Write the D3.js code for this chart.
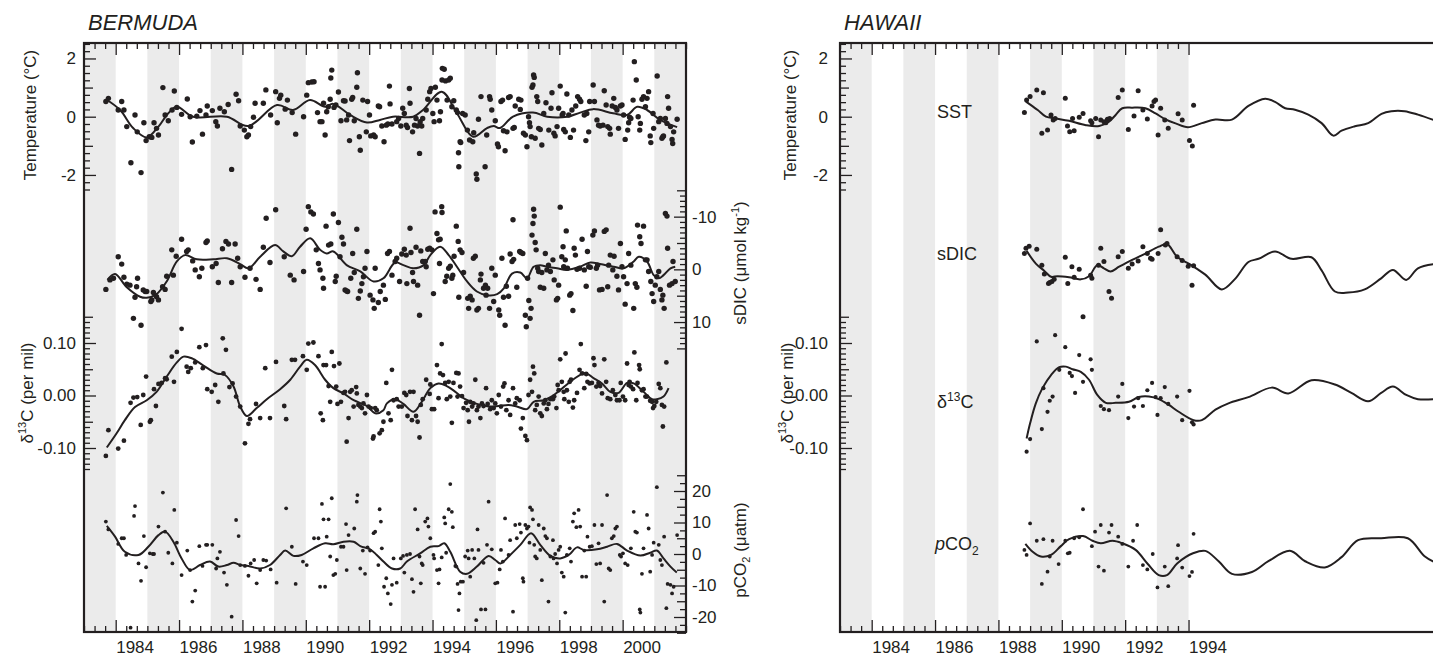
<!DOCTYPE html>
<html>
<head>
<meta charset="utf-8">
<script src="https://cdn.jsdelivr.net/npm/d3@7"></script>
<style>
  body { margin: 0; background: #fff; }
</style>
</head>
<body>
<div id="chart"></div>
<script>
// ---- categories / ticks ----
const bermudaBands = [1983, 1985, 1987, 1989, 1991, 1993, 1995, 1997, 1999, 2001];
const hawaiiBands = [1983, 1985, 1987, 1989, 1991, 1993];
const bermudaYears = [1984, 1986, 1988, 1990, 1992, 1994, 1996, 1998, 2000];
const hawaiiYears = [1984, 1986, 1988, 1990, 1992, 1994];
const tempTicks = [-2, 0, 2];
const d13Ticks = [-0.1, 0, 0.1];
const dicTicks = [-10, 0, 10];
const pco2Ticks = [-20, -10, 0, 10, 20];

// ---- Bermuda: temperature anomaly (degC) ----
const bermudaTempPts = [[1983.69,0.52],[1983.77,0.63],[1984.08,0.23],[1984.19,0.52],[1984.26,0.23],[1984.35,-0.34],[1984.48,-1.58],[1984.61,0.06],[1984.68,-0.52],[1984.80,-1.92],[1984.89,-0.21],[1984.96,-0.82],[1985.06,-0.69],[1985.14,-0.71],[1985.21,-0.21],[1985.29,-0.40],[1985.35,-0.63],[1985.49,1.00],[1985.56,0.06],[1985.66,-0.14],[1985.78,0.23],[1985.85,0.88],[1985.93,0.32],[1986.08,0.08],[1986.26,0.61],[1986.35,0.00],[1986.42,-0.87],[1986.56,0.02],[1986.66,0.21],[1986.74,-0.60],[1986.85,0.06],[1986.89,0.37],[1987.05,0.21],[1987.16,-0.17],[1987.21,-0.32],[1987.29,0.29],[1987.43,0.17],[1987.55,0.42],[1987.66,-1.81],[1987.80,0.77],[1987.88,0.55],[1987.93,-0.32],[1988.06,-0.46],[1988.14,-0.69],[1988.19,-0.63],[1988.26,-0.34],[1988.35,-0.02],[1988.40,0.46],[1988.66,0.46],[1988.74,0.92],[1988.89,0.06],[1989.05,0.86],[1989.10,-0.21],[1989.17,0.63],[1989.21,0.74],[1989.35,0.26],[1989.42,0.57],[1989.57,0.14],[1989.68,-0.60],[1989.93,0.00],[1990.03,0.74],[1990.08,1.17],[1990.19,1.19],[1990.26,1.20],[1990.37,0.14],[1990.45,-0.17],[1990.51,-0.17],[1990.56,0.46],[1990.61,-0.63],[1990.66,0.17],[1990.71,0.34],[1990.77,0.60],[1990.79,1.33],[1990.82,1.60],[1990.89,0.32],[1990.95,0.40],[1991.03,0.85],[1991.11,-0.14],[1991.19,0.55],[1991.24,0.54],[1991.29,-0.11],[1991.35,0.06],[1991.38,-0.82],[1991.45,0.60],[1991.48,0.66],[1991.53,-0.14],[1991.61,1.01],[1991.63,1.51],[1991.69,-0.69],[1991.72,-1.15],[1991.80,0.57],[1991.91,-0.52],[1991.95,0.52],[1992.01,0.06],[1992.05,-0.66],[1992.14,-0.63],[1992.19,-0.69],[1992.29,0.37],[1992.33,0.34],[1992.40,-0.32],[1992.47,-0.86],[1992.54,-0.29],[1992.59,-0.25],[1992.64,1.05],[1992.66,0.44],[1992.72,-0.25],[1992.87,-0.17],[1992.93,-0.06],
  [1993.00,-0.32],[1993.06,0.29],[1993.11,0.11],[1993.17,-0.29],[1993.21,-0.37],[1993.27,0.97],[1993.29,0.46],[1993.37,-0.52],[1993.43,-0.29],[1993.48,-0.06],[1993.53,-0.32],[1993.59,-1.26],[1993.61,-0.17],[1993.66,-0.32],[1993.69,-0.06],[1993.80,0.23],[1993.85,0.60],[1993.91,0.86],[1993.95,0.97],[1994.01,0.11],[1994.05,-0.17],[1994.09,1.01],[1994.14,0.57],[1994.22,-0.14],[1994.25,0.17],[1994.30,1.26],[1994.31,1.66],[1994.37,1.63],[1994.41,1.23],[1994.46,0.57],[1994.51,1.26],[1994.56,1.32],[1994.61,0.34],[1994.67,0.55],[1994.75,0.23],[1994.79,0.14],[1994.82,-1.24],[1994.87,-0.86],[1994.83,-1.72],[1994.89,-0.89],[1994.95,0.11],[1995.03,0.06],[1995.10,-0.46],[1995.17,-0.80],[1995.27,-0.86],[1995.30,-0.55],[1995.38,-1.97],[1995.40,-2.15],[1995.45,-0.09],[1995.53,0.69],[1995.66,-1.72],[1995.71,-0.63],[1995.80,0.69],[1995.82,0.60],[1995.87,0.23],[1995.98,-0.14],[1996.05,-0.94],[1996.08,-1.03],[1996.16,0.52],[1996.21,0.57],[1996.24,-0.48],[1996.29,-1.17],[1996.35,-0.52],[1996.40,0.66],[1996.45,0.69],[1996.54,-0.40],[1996.58,-0.37],[1996.61,0.37],[1996.72,0.60],[1996.77,0.25],[1996.79,0.57],[1996.87,-0.57],[1996.93,-0.63],[1996.98,-1.03],[1997.03,0.00],[1997.06,-0.21],[1997.08,-0.34],[1997.12,-0.69],[1997.14,1.01],[1997.17,1.09],[1997.19,1.43],[1997.21,1.35],[1997.24,-0.74],[1997.29,0.69],[1997.32,0.52],[1997.35,-0.40],[1997.40,-0.44],[1997.45,-0.97],[1997.51,0.11],[1997.58,0.48],[1997.67,-0.46],[1997.74,0.29],[1997.77,0.82],[1997.83,-0.57],[1997.87,-0.66],[1997.93,-0.34],[1997.98,0.29],[1998.03,1.05],[1998.09,0.06],[1998.12,0.11],[1998.14,-0.44],[1998.19,-0.52],[1998.24,0.78],[1998.30,0.06],[1998.35,-0.71],[1998.40,0.23],[1998.45,-0.46],[1998.52,0.37],[1998.58,0.69],[1998.64,0.60],[1998.68,0.52],[1998.79,0.06],[1998.84,-0.82],[1998.87,0.11],[1998.93,-0.52],[1998.96,0.52],[1999.07,1.09],[1999.11,0.52],[1999.19,-0.11],[1999.24,-0.29],[1999.29,-0.32],[1999.38,-0.29],[1999.42,0.89],[1999.48,0.40],[1999.53,-0.34],[1999.59,-0.40],[1999.61,-0.60],[1999.67,0.37],[1999.72,0.63],[1999.77,0.32],[1999.82,0.23],[1999.87,-0.40],[1999.93,0.37],[1999.98,0.40],[2000.03,0.06],[2000.08,-0.78],[2000.16,-0.46],[2000.19,-0.21],[2000.22,-0.02],[2000.26,-0.06],[2000.33,0.57],[2000.37,1.89],[2000.43,1.26],[2000.49,0.00],[2000.54,-0.46],[2000.56,-0.23],[2000.61,0.60],[2000.66,0.69],[2000.72,0.34],[2000.77,0.63],[2000.82,0.86],[2000.87,-0.66],[2000.89,-0.89],[2000.96,0.11],[2000.98,-0.40],[2001.09,1.40],[2001.14,-0.17],[2001.19,-0.06],[2001.24,-0.74],[2001.27,-0.69],[2001.29,-0.66],[2001.35,-0.06],[2001.40,-0.23],[2001.42,0.69],[2001.45,0.29],[2001.51,-0.34],[2001.56,-0.78],[2001.58,-0.92],[2001.61,-0.52],[2001.72,-0.09]];
const bermudaTempFit = [[1983.69,0.60],[1984.14,0.23],[1984.55,-0.39],[1984.98,-0.71],[1985.35,-0.34],[1985.66,0.12],[1985.93,0.34],[1986.44,0.00],[1987.51,0.00],[1988.18,-0.32],[1989.09,0.40],[1989.60,0.23],[1990.13,0.57],[1990.61,0.34],[1990.86,0.44],[1991.40,0.06],[1991.93,-0.20],[1992.34,-0.11],[1992.75,0.00],[1993.39,0.00],[1993.70,0.23],[1994.29,0.86],[1994.77,0.12],[1995.28,-0.69],[1995.72,-0.39],[1995.93,-0.32],[1996.13,-0.39],[1996.54,0.00],[1997.17,0.14],[1997.62,0.00],[1998.25,0.00],[1998.66,0.14],[1999.07,0.26],[1999.70,0.12],[2000.14,0.06],[2000.46,0.34],[2000.77,0.23],[2001.18,-0.11],[2001.72,-0.36]];

// ---- Bermuda: salinity-normalised DIC anomaly (umol/kg, axis inverted) ----
const bermudaDicPts = [[1983.69,3.8],[1983.82,2.0],[1983.93,1.7],[1984.08,-2.4],[1984.19,-1.0],[1984.26,1.5],[1984.35,2.8],[1984.45,3.0],[1984.56,9.3],[1984.61,5.3],[1984.66,3.3],[1984.69,1.7],[1984.80,10.6],[1984.87,3.9],[1984.93,4.2],[1984.98,4.2],[1985.11,6.1],[1985.14,5.8],[1985.19,4.4],[1985.29,5.2],[1985.35,5.8],[1985.48,3.3],[1985.56,3.8],[1985.61,1.3],[1985.77,-3.7],[1985.82,1.1],[1985.91,-2.5],[1986.08,-5.7],[1986.24,-3.4],[1986.29,-3.7],[1986.43,-1.6],[1986.51,0.1],[1986.64,1.4],[1986.72,-0.2],[1986.85,-5.1],[1986.89,-5.4],[1987.05,-0.5],[1987.17,-1.1],[1987.24,2.5],[1987.37,-3.9],[1987.48,-5.3],[1987.56,-4.8],[1987.66,2.5],[1987.77,-4.8],[1987.85,-2.1],[1987.93,-0.5],[1988.08,1.5],[1988.24,-0.2],[1988.43,1.9],[1988.56,3.8],[1988.66,-4.2],[1988.75,-9.7],[1988.87,-1.3],[1989.05,-11.3],[1989.32,-2.4],[1989.51,1.1],[1989.63,2.0],[1989.93,0.4],[1990.01,-7.6],[1990.08,-11.9],[1990.16,-10.9],[1990.24,-10.5],[1990.33,-3.7],[1990.40,-1.1],[1990.45,0.1],[1990.54,1.7],[1990.56,3.6],[1990.64,-8.2],[1990.72,-4.6],[1990.79,-4.8],[1990.87,-10.5],[1990.93,2.3],[1990.96,1.3],[1991.03,-8.9],[1991.08,-2.4],[1991.14,-6.1],[1991.19,-4.8],[1991.24,3.9],[1991.29,4.1],[1991.32,4.2],[1991.42,1.7],[1991.48,-3.0],[1991.53,0.6],[1991.61,-7.6],[1991.66,5.5],[1991.72,4.1],[1991.77,2.7],[1991.82,1.4],[1991.87,-0.2],[1991.93,-3.4],[1992.03,4.9],[1992.12,5.8],[1992.16,7.4],[1992.19,-0.2],[1992.29,6.3],[1992.35,4.2],[1992.45,3.0],
  [1992.51,5.7],[1992.58,-3.0],[1992.64,-3.4],[1992.72,1.1],[1992.82,-1.5],[1992.87,-2.1],[1992.96,2.3],[1993.03,-2.9],[1993.11,-3.8],[1993.17,-2.7],[1993.19,2.7],[1993.29,-7.8],[1993.32,-3.2],[1993.37,0.6],[1993.40,2.3],[1993.48,-4.2],[1993.53,3.0],[1993.59,8.7],[1993.63,-3.5],[1993.69,-1.5],[1993.77,-1.5],[1993.80,-0.5],[1993.85,-3.8],[1993.91,-4.0],[1993.98,-3.7],[1994.03,4.6],[1994.08,-10.9],[1994.14,-6.8],[1994.19,-5.6],[1994.22,-1.1],[1994.24,-5.7],[1994.29,-11.9],[1994.30,-10.8],[1994.40,2.3],[1994.45,1.3],[1994.51,-0.2],[1994.56,-0.6],[1994.61,1.7],[1994.64,1.1],[1994.68,-2.5],[1994.75,-8.2],[1994.81,-5.3],[1994.83,5.3],[1994.87,-3.7],[1994.93,-3.2],[1994.98,0.6],[1995.11,5.5],[1995.14,7.4],[1995.19,5.1],[1995.25,5.8],[1995.29,-2.1],[1995.35,-2.5],[1995.40,7.7],[1995.45,7.4],[1995.51,2.0],[1995.53,0.9],[1995.61,3.6],[1995.67,3.0],[1995.69,4.9],[1995.74,3.6],[1995.80,7.4],[1995.87,-0.2],[1995.93,6.1],[1995.98,1.1],[1996.09,7.7],[1996.12,8.7],[1996.19,-2.1],[1996.24,5.3],[1996.29,10.6],[1996.33,3.2],[1996.40,5.1],[1996.45,-2.9],[1996.51,-1.5],[1996.54,-9.4],[1996.56,-1.9],[1996.66,3.4],[1996.75,-3.4],[1996.79,-3.2],[1996.85,-3.0],[1996.93,8.7],[1996.96,10.9],[1997.00,1.7],[1997.04,5.9],[1997.08,9.3],[1997.11,7.4],[1997.14,-6.5],[1997.17,-8.7],[1997.19,-11.4],[1997.21,-10.1],[1997.24,-5.1],[1997.27,-3.7],[1997.32,-0.2],[1997.35,0.4],[1997.40,3.4],[1997.45,0.6],[1997.51,3.6],[1997.56,-3.0],[1997.61,0.1],[1997.66,-0.8],[1997.72,0.4],[1997.80,-1.8],[1997.84,2.0],[1997.91,5.8],[1997.95,5.5],[1997.98,3.0],[1998.03,-11.8],[1998.08,-2.4],[1998.12,-4.3],[1998.14,-0.5],[1998.19,-1.8],[1998.22,-7.3],[1998.26,-0.2],[1998.33,4.9],[1998.37,4.6],[1998.43,7.8],[1998.47,-4.0],[1998.51,-2.7],[1998.56,0.0],[1998.64,-0.2],[1998.72,-5.7],[1998.79,0.1],[1998.85,3.2],[1998.89,-3.4],[1998.93,-0.5],[1998.98,-0.4],[1999.06,-6.5],[1999.11,-7.3],[1999.17,-0.2],[1999.21,-0.8],[1999.27,3.9],[1999.35,3.8],[1999.42,-7.2],[1999.48,-7.5],[1999.53,3.3],[1999.56,-0.8],[1999.61,-2.7],[1999.69,0.1],[1999.73,-2.5],[1999.82,1.3],[1999.87,3.9],[1999.93,-4.9],[1999.98,-0.5],[2000.03,1.4],[2000.08,6.6],[2000.14,2.7],[2000.19,-3.0],[2000.26,-0.8],[2000.35,7.4],[2000.40,2.7],[2000.45,3.4],[2000.47,-8.4],[2000.54,-6.2],[2000.58,-4.9],[2000.66,-8.2],[2000.72,-1.8],[2000.77,-1.8],[2000.82,0.4],[2000.89,2.3],[2000.93,4.6],[2000.98,6.1],[2001.03,3.0],[2001.08,1.4],[2001.14,0.4],[2001.19,3.8],[2001.24,5.8],[2001.27,4.9],[2001.31,7.4],[2001.35,-10.6],[2001.40,-10.1],[2001.42,-4.0],[2001.48,3.0],[2001.56,2.7],[2001.59,-1.5],[2001.66,2.3]];
const bermudaDicFit = [[1983.74,2.0],[1983.98,0.9],[1984.35,3.4],[1984.77,5.2],[1984.98,5.4],[1985.29,4.7],[1985.61,2.3],[1985.93,-1.5],[1986.19,-2.7],[1986.56,-1.9],[1987.08,-1.9],[1987.51,-2.1],[1987.93,-1.0],[1988.19,-0.2],[1988.56,-2.4],[1989.03,-4.6],[1989.29,-3.4],[1989.56,-2.5],[1989.82,-4.3],[1990.14,-5.9],[1990.45,-3.7],[1990.66,-3.0],[1990.87,-3.4],[1991.29,-0.8],[1991.72,0.4],[1992.14,2.3],[1992.45,1.7],[1992.82,-1.3],[1993.08,-0.8],[1993.40,-0.2],[1993.72,-0.8],[1993.93,-2.7],[1994.24,-4.3],[1994.51,-2.7],[1994.77,-0.5],[1995.09,2.3],[1995.40,4.2],[1995.72,4.9],[1996.04,4.7],[1996.25,3.6],[1996.51,0.8],[1996.77,0.6],[1996.98,1.7],[1997.19,-0.5],[1997.40,-0.8],[1997.61,-0.5],[1997.93,-0.2],[1998.24,0.1],[1998.66,-0.5],[1998.98,-1.3],[1999.29,-1.0],[1999.72,-0.5],[2000.03,-0.2],[2000.35,-1.5],[2000.51,-2.4],[2000.77,-1.5],[2000.98,1.1],[2001.14,1.7],[2001.29,1.1],[2001.51,-0.2],[2001.66,-0.5]];

// ---- Bermuda: delta13C anomaly (per mil) ----
const bermudaD13Pts = [[1983.69,-0.115],[1983.77,-0.066],[1984.08,-0.101],[1984.26,-0.086],[1984.47,-0.014],[1984.56,-0.004],[1984.68,-0.003],[1984.79,-0.056],[1984.87,0.001],[1984.96,0.036],[1985.08,-0.050],[1985.11,-0.047],[1985.21,0.012],[1985.27,-0.020],[1985.35,0.022],[1985.45,0.024],[1985.56,0.033],[1985.61,0.031],[1985.77,0.074],[1985.84,0.026],[1985.93,0.083],[1986.08,0.127],[1986.24,0.055],[1986.29,0.045],[1986.37,0.052],[1986.51,0.063],[1986.64,0.092],[1986.75,0.052],[1986.85,0.096],[1986.89,0.012],[1987.03,0.007],[1987.14,0.020],[1987.24,-0.012],[1987.38,0.109],[1987.40,0.042],[1987.48,0.087],[1987.59,0.016],[1987.69,0.023],[1987.80,-0.002],[1987.93,-0.021],[1988.08,-0.091],[1988.19,-0.054],[1988.24,-0.045],[1988.43,-0.016],[1988.56,-0.043],[1988.72,0.052],[1988.87,-0.043],[1989.06,0.064],[1989.32,-0.020],[1989.38,-0.045],[1989.56,0.068],[1989.66,0.068],[1989.91,0.075],[1990.03,0.049],[1990.08,0.099],[1990.24,0.101],[1990.40,0.075],[1990.47,-0.034],[1990.54,-0.047],[1990.56,0.058],[1990.64,0.058],[1990.72,0.018],[1990.77,-0.012],[1990.82,0.083],[1990.89,0.056],[1990.96,0.017],[1991.00,-0.016],[1991.06,0.061],[1991.11,-0.012],[1991.19,0.005],[1991.24,0.007],[1991.29,-0.088],[1991.35,-0.043],[1991.40,0.007],[1991.45,0.010],[1991.51,-0.021],[1991.59,0.016],[1991.61,0.004],[1991.66,-0.018],[1991.72,-0.021],[1991.77,-0.024],[1991.82,-0.015],[1991.87,-0.034],[1991.93,0.001],[1991.98,-0.021],[1992.05,-0.024],[1992.12,-0.082],[1992.14,-0.078],[1992.19,-0.024],[1992.24,-0.028],[1992.33,-0.072],[1992.40,-0.066],[1992.45,-0.050],[1992.54,0.024],[1992.61,-0.034],[1992.68,-0.047],[1992.72,0.049],[1992.77,-0.009],[1992.87,-0.007],[1992.93,-0.021],
  [1993.03,-0.021],[1993.11,0.005],[1993.17,0.001],[1993.21,-0.039],[1993.29,0.007],[1993.35,-0.047],[1993.40,0.007],[1993.48,-0.039],[1993.53,-0.050],[1993.59,-0.080],[1993.63,-0.018],[1993.69,-0.007],[1993.80,0.030],[1993.91,0.003],[1993.93,0.021],[1993.98,-0.026],[1994.05,-0.026],[1994.14,0.058],[1994.19,-0.005],[1994.24,0.042],[1994.29,0.098],[1994.33,0.039],[1994.40,0.024],[1994.45,-0.007],[1994.51,0.026],[1994.56,-0.002],[1994.61,-0.052],[1994.66,0.024],[1994.75,0.043],[1994.79,-0.002],[1994.82,0.042],[1994.87,0.017],[1994.93,-0.001],[1994.98,-0.024],[1995.06,-0.014],[1995.11,-0.028],[1995.15,-0.050],[1995.19,-0.012],[1995.25,-0.021],[1995.29,-0.015],[1995.35,0.030],[1995.40,-0.028],[1995.45,-0.021],[1995.51,-0.043],[1995.56,-0.015],[1995.61,-0.020],[1995.69,0.014],[1995.74,-0.016],[1995.82,-0.026],[1995.87,-0.009],[1995.93,-0.024],[1995.98,-0.015],[1996.03,-0.034],[1996.09,0.001],[1996.16,-0.021],[1996.23,0.017],[1996.27,0.023],[1996.33,-0.028],[1996.40,-0.009],[1996.45,-0.037],[1996.54,0.014],[1996.61,-0.015],[1996.66,-0.005],[1996.75,-0.009],[1996.79,-0.063],[1996.85,-0.043],[1996.93,-0.077],[1996.98,-0.085],[1997.03,0.001],[1997.08,0.030],[1997.14,0.007],[1997.17,0.055],[1997.21,0.042],[1997.24,-0.028],[1997.29,-0.018],[1997.35,-0.002],[1997.40,-0.034],[1997.45,-0.039],[1997.51,-0.015],[1997.56,-0.009],[1997.61,-0.026],[1997.66,-0.016],[1997.72,-0.007],[1997.80,-0.007],[1997.84,-0.002],[1997.91,-0.024],[1997.95,0.020],[1997.98,0.010],[1998.03,0.069],[1998.08,0.026],[1998.14,0.007],[1998.16,-0.007],[1998.20,0.080],[1998.24,0.010],[1998.30,-0.012],[1998.33,0.026],[1998.37,0.030],[1998.43,-0.023],[1998.47,-0.009],[1998.56,0.005],[1998.64,0.049],[1998.68,0.098],[1998.72,0.042],[1998.79,0.014],[1998.85,0.041],[1998.89,0.026],[1998.96,0.023],[1999.03,0.024],[1999.08,0.071],[1999.11,0.058],[1999.17,0.017],[1999.24,0.024],[1999.29,0.018],[1999.35,0.004],[1999.42,0.069],[1999.48,0.026],[1999.53,-0.005],[1999.61,-0.007],[1999.69,0.010],[1999.77,0.001],[1999.82,-0.009],[1999.90,-0.009],[1999.94,0.024],[2000.01,-0.002],[2000.08,-0.009],[2000.14,0.061],[2000.19,0.020],[2000.22,0.026],[2000.26,0.017],[2000.33,0.012],[2000.37,0.082],[2000.43,-0.009],[2000.47,0.024],[2000.52,0.058],[2000.54,0.050],[2000.61,0.010],[2000.66,0.012],[2000.72,-0.002],[2000.77,-0.002],[2000.87,-0.010],[2000.93,-0.012],[2000.96,-0.024],[2001.00,-0.020],[2001.06,-0.012],[2001.14,0.022],[2001.19,0.014],[2001.24,-0.018],[2001.27,-0.059],[2001.31,-0.021],[2001.38,0.063]];
const bermudaD13Fit = [[1983.72,-0.099],[1984.03,-0.072],[1984.29,-0.047],[1984.61,-0.022],[1984.98,-0.009],[1985.29,0.007],[1985.61,0.036],[1985.93,0.063],[1986.14,0.074],[1986.40,0.071],[1986.77,0.057],[1987.19,0.042],[1987.45,0.039],[1987.72,0.017],[1987.93,-0.021],[1988.14,-0.039],[1988.45,-0.024],[1988.77,-0.007],[1989.19,0.012],[1989.51,0.030],[1989.82,0.055],[1990.03,0.068],[1990.29,0.058],[1990.61,0.030],[1990.87,0.014],[1991.19,0.004],[1991.51,-0.009],[1991.93,-0.020],[1992.19,-0.034],[1992.45,-0.028],[1992.56,-0.015],[1992.82,-0.007],[1993.08,-0.016],[1993.40,-0.031],[1993.66,-0.012],[1993.93,0.014],[1994.19,0.023],[1994.45,0.018],[1994.72,0.007],[1995.03,-0.007],[1995.40,-0.016],[1995.77,-0.021],[1996.09,-0.020],[1996.40,-0.018],[1996.66,-0.021],[1996.98,-0.026],[1997.19,-0.012],[1997.51,-0.009],[1997.83,0.001],[1998.14,0.016],[1998.45,0.031],[1998.82,0.043],[1999.08,0.033],[1999.35,0.023],[1999.61,0.007],[1999.87,0.005],[2000.14,0.024],[2000.35,0.023],[2000.66,0.007],[2000.93,-0.007],[2001.08,-0.007],[2001.29,-0.002],[2001.45,0.014]];

// ---- Bermuda: pCO2 anomaly (uatm) ----
const bermudaPco2Pts = [[1983.69,10.3],[1983.77,7.8],[1984.08,3.2],[1984.19,5.0],[1984.26,5.0],[1984.33,-0.3],[1984.47,-23.4],[1984.58,12.1],[1984.61,15.2],[1984.72,-3.0],[1984.80,-8.5],[1984.89,5.7],[1984.96,-4.2],[1985.08,0.2],[1985.17,0.0],[1985.21,0.0],[1985.35,8.7],[1985.49,19.5],[1985.56,7.1],[1985.66,0.4],[1985.79,-3.0],[1985.85,14.0],[1985.93,3.6],[1986.08,-6.7],[1986.26,1.1],[1986.35,-5.1],[1986.42,-15.1],[1986.51,-11.6],[1986.64,2.5],[1986.74,-3.8],[1986.85,2.9],[1986.89,2.9],[1987.05,2.9],[1987.17,-4.6],[1987.21,-1.4],[1987.29,0.7],[1987.42,-5.9],[1987.51,-9.8],[1987.66,-19.9],[1987.80,10.8],[1987.88,5.7],[1987.93,-3.5],[1988.08,-3.8],[1988.19,-6.9],[1988.26,-3.0],[1988.37,-1.9],[1988.45,-9.3],[1988.56,-5.1],[1988.66,-1.9],[1988.75,-2.1],[1988.89,-4.9],[1989.08,-9.1],[1989.38,14.5],[1989.56,2.3],[1989.68,-9.5],[1989.91,-2.4],[1990.03,-3.5],[1990.26,5.0],[1990.40,5.0],[1990.45,-10.4],[1990.51,15.9],[1990.56,11.0],[1990.61,-10.4],[1990.66,5.5],[1990.72,11.0],[1990.77,-0.8],[1990.82,17.7],[1990.87,-6.7],[1990.93,-6.3],[1990.98,-1.9],[1991.11,2.3],[1991.19,2.3],[1991.27,9.5],[1991.29,-5.1],[1991.35,6.0],[1991.53,8.1],[1991.61,16.6],[1991.63,18.7],[1991.72,-4.6],[1991.80,1.1],[1991.87,-6.3],[1991.95,2.1],[1992.03,1.1],[1992.14,6.6],[1992.19,7.1],[1992.29,-3.5],[1992.33,14.2],[1992.37,10.3],[1992.40,1.8],[1992.47,-10.4],[1992.54,-7.7],[1992.59,-12.5],[1992.68,-15.9],[1992.72,-9.8],[1992.77,-1.4],[1992.87,-9.1],
  [1993.00,-1.4],[1993.07,-0.6],[1993.11,-5.9],[1993.19,-0.3],[1993.29,0.0],[1993.35,-8.0],[1993.40,-12.0],[1993.45,14.2],[1993.53,7.8],[1993.59,-0.8],[1993.63,-9.3],[1993.66,-3.0],[1993.69,-3.5],[1993.77,10.3],[1993.84,11.3],[1993.87,8.7],[1993.93,5.0],[1994.03,-0.3],[1994.05,-1.4],[1994.14,-5.1],[1994.19,-9.3],[1994.22,-4.9],[1994.29,-1.1],[1994.37,11.6],[1994.40,9.7],[1994.43,0.4],[1994.51,14.2],[1994.56,22.2],[1994.61,13.4],[1994.64,8.5],[1994.72,-3.8],[1994.75,-4.0],[1994.79,-9.5],[1994.82,-17.8],[1994.85,-12.5],[1994.89,-8.8],[1994.96,-8.8],[1995.03,-0.8],[1995.11,1.1],[1995.14,-1.4],[1995.19,-7.2],[1995.25,1.3],[1995.32,-1.4],[1995.38,-21.0],[1995.42,7.8],[1995.45,1.3],[1995.53,-17.6],[1995.61,-2.8],[1995.67,-17.6],[1995.72,2.9],[1995.77,16.6],[1995.87,1.5],[1995.98,-9.3],[1996.05,-9.1],[1996.12,-4.9],[1996.16,1.3],[1996.22,-2.4],[1996.29,11.3],[1996.40,-0.3],[1996.45,4.4],[1996.54,-18.3],[1996.61,9.2],[1996.66,5.0],[1996.75,9.5],[1996.79,6.8],[1996.85,-7.7],[1996.87,-8.8],[1996.93,9.2],[1996.98,8.1],[1997.03,8.7],[1997.06,3.6],[1997.08,14.8],[1997.14,14.0],[1997.17,11.0],[1997.21,2.9],[1997.24,-0.8],[1997.29,-1.4],[1997.35,9.2],[1997.40,1.3],[1997.45,-8.3],[1997.51,8.1],[1997.56,5.7],[1997.61,5.0],[1997.66,-15.1],[1997.72,-0.8],[1997.80,4.4],[1997.82,-1.4],[1997.87,0.0],[1997.93,-3.0],[1997.98,1.3],[1998.03,2.3],[1998.08,-5.9],[1998.14,-7.2],[1998.19,-18.6],[1998.24,-0.3],[1998.33,1.8],[1998.37,-2.4],[1998.43,10.3],[1998.47,12.9],[1998.54,8.5],[1998.61,14.0],[1998.66,8.7],[1998.72,-7.2],[1998.79,1.1],[1998.85,-7.2],[1998.89,5.5],[1998.96,2.3],[1999.03,2.5],[1999.11,9.2],[1999.17,-3.2],[1999.24,3.4],[1999.29,-3.0],[1999.35,9.2],[1999.42,-15.1],[1999.51,18.7],[1999.56,-4.6],[1999.61,-5.1],[1999.66,5.0],[1999.72,5.7],[1999.77,8.1],[1999.82,8.7],[1999.91,-0.3],[1999.95,-0.8],[2000.01,0.2],[2000.08,-3.0],[2000.16,-3.5],[2000.26,1.8],[2000.35,13.4],[2000.40,7.1],[2000.45,6.8],[2000.54,-17.6],[2000.56,-18.6],[2000.61,-6.3],[2000.66,1.8],[2000.77,12.4],[2000.82,8.1],[2000.87,-5.6],[2000.93,-0.3],[2000.98,3.6],[2001.08,21.2],[2001.14,2.9],[2001.19,-1.9],[2001.24,-3.5],[2001.31,5.5],[2001.38,-17.2],[2001.42,-9.5],[2001.51,-9.8],[2001.56,-12.5],[2001.61,-10.4],[2001.72,6.0]];
const bermudaPco2Fit = [[1983.72,8.9],[1983.98,5.5],[1984.29,0.7],[1984.72,-0.3],[1985.03,2.3],[1985.35,6.0],[1985.56,7.1],[1985.82,3.9],[1986.08,-1.4],[1986.35,-5.1],[1986.66,-3.5],[1986.98,-2.4],[1987.24,-4.0],[1987.51,-3.5],[1987.72,-2.8],[1987.93,-3.5],[1988.19,-3.8],[1988.56,-4.6],[1988.87,-3.5],[1989.19,-0.3],[1989.35,1.1],[1989.61,-0.6],[1989.87,-0.3],[1990.24,1.8],[1990.61,3.4],[1990.87,3.1],[1991.19,3.9],[1991.51,3.9],[1991.72,2.5],[1992.03,1.5],[1992.24,-0.3],[1992.45,-2.4],[1992.72,-4.6],[1992.98,-4.6],[1993.19,-2.4],[1993.61,0.2],[1993.93,2.3],[1994.19,2.5],[1994.37,3.4],[1994.56,0.7],[1994.87,-5.6],[1995.09,-6.3],[1995.40,-4.0],[1995.77,-0.6],[1995.98,-1.9],[1996.14,-3.0],[1996.45,-0.3],[1996.77,2.9],[1997.11,6.6],[1997.40,2.9],[1997.72,-0.6],[1998.03,-1.4],[1998.30,-0.3],[1998.56,2.1],[1998.77,1.3],[1999.19,1.5],[1999.51,2.3],[1999.82,3.2],[2000.14,1.1],[2000.56,-0.5],[2000.87,0.4],[2001.08,1.1],[2001.29,-1.4],[2001.51,-4.0],[2001.71,-5.9]];

// ---- Hawaii ----
const hawaiiSstPts = [[1988.82,0.14],[1988.89,0.57],[1989.00,0.69],[1989.21,0.92],[1989.37,-0.57],[1989.42,0.82],[1989.55,-0.46],[1989.66,0.06],[1989.73,-0.11],[1989.79,-0.06],[1990.11,0.63],[1990.18,-0.32],[1990.25,-0.52],[1990.34,-0.06],[1990.39,-0.48],[1990.55,-0.02],[1990.67,0.11],[1990.91,-0.14],[1990.95,-0.21],[1991.07,-0.06],[1991.16,-0.69],[1991.23,-0.11],[1991.33,-0.17],[1991.39,-0.21],[1991.44,-0.09],[1991.51,-0.06],[1991.78,0.66],[1991.91,0.92],[1992.10,-0.44],[1992.28,0.02],[1992.41,0.89],[1992.56,0.23],[1992.70,-0.08],[1992.85,0.37],[1992.91,0.52],[1992.96,0.57],[1993.04,-0.63],[1993.12,0.29],[1993.25,-0.11],[1993.36,-0.40],[1993.67,0.10],[1993.80,-0.11],[1994.03,-0.82],[1994.12,-1.01],[1994.16,0.39]];
const hawaiiSstFit = [[1988.87,0.52],[1989.24,0.23],[1989.50,0.00],[1989.81,-0.06],[1990.23,-0.14],[1990.76,-0.29],[1991.18,-0.32],[1991.49,-0.17],[1991.70,0.06],[1991.91,0.29],[1992.22,0.31],[1992.64,0.29],[1992.96,0.11],[1993.27,-0.09],[1993.59,-0.23],[1993.98,-0.36],[1994.42,-0.22],[1994.85,-0.10],[1995.37,-0.10],[1995.89,0.37],[1996.42,0.62],[1996.73,0.51],[1997.05,0.29],[1997.36,0.24],[1997.78,0.07],[1998.20,-0.22],[1998.57,-0.65],[1998.83,-0.48],[1999.25,-0.33],[1999.67,-0.22],[2000.09,0.10],[2000.40,0.19],[2000.82,0.19],[2001.24,0.07],[2001.75,-0.12]];
const hawaiiDicPts = [[1988.82,-3.0],[1988.87,-4.0],[1988.97,-4.4],[1989.21,-3.8],[1989.37,-0.8],[1989.45,0.9],[1989.58,2.7],[1989.62,2.5],[1989.69,2.3],[1989.76,1.9],[1990.11,-2.3],[1990.19,2.7],[1990.32,-0.5],[1990.39,1.5],[1990.55,0.0],[1990.67,9.0],[1990.91,1.1],[1990.95,1.7],[1991.16,-0.8],[1991.23,-4.0],[1991.33,-1.5],[1991.49,4.2],[1991.57,5.5],[1991.78,-2.4],[1991.91,-3.4],[1992.10,-0.2],[1992.22,-1.0],[1992.41,-1.6],[1992.56,-4.3],[1992.70,-3.0],[1992.80,-2.1],[1992.85,-1.9],[1993.04,-3.0],[1993.12,-7.5],[1993.27,-4.6],[1993.32,-4.9],[1993.64,-2.4],[1993.80,-1.7],[1993.99,-0.6],[1994.11,3.0],[1994.16,-0.7]];
const hawaiiDicFit = [[1988.89,-3.5],[1989.18,-1.1],[1989.45,0.3],[1989.66,1.4],[1989.87,1.3],[1990.23,1.5],[1990.60,1.9],[1990.86,1.3],[1991.12,-0.8],[1991.33,-0.2],[1991.54,0.4],[1991.81,-0.5],[1992.22,-1.8],[1992.64,-3.0],[1993.06,-4.3],[1993.32,-4.8],[1993.64,-2.4],[1994.11,-0.7],[1994.53,1.0],[1995.05,3.8],[1995.47,1.8],[1995.89,-1.4],[1996.21,-2.0],[1996.73,-3.4],[1997.25,-2.0],[1997.88,-2.3],[1998.20,0.2],[1998.62,4.2],[1999.04,4.4],[1999.56,3.8],[2000.08,1.7],[2000.45,0.1],[2000.87,2.0],[2001.24,-0.2],[2001.75,-1.0]];
const hawaiiD13Pts = [[1988.89,-0.107],[1989.00,-0.083],[1989.21,0.103],[1989.37,-0.064],[1989.42,0.014],[1989.55,-0.031],[1989.62,-0.010],[1989.71,-0.002],[1989.79,0.115],[1989.92,0.049],[1990.11,0.092],[1990.25,0.043],[1990.32,0.037],[1990.42,0.005],[1990.55,0.077],[1990.67,0.026],[1990.91,0.069],[1990.95,0.049],[1991.23,-0.020],[1991.33,-0.026],[1991.49,-0.028],[1991.78,-0.002],[1991.91,0.022],[1992.10,-0.043],[1992.28,-0.021],[1992.41,-0.005],[1992.56,-0.020],[1992.70,0.010],[1992.85,0.024],[1992.96,-0.003],[1993.02,-0.037],[1993.12,-0.005],[1993.25,0.016],[1993.36,-0.016],[1993.64,-0.002],[1993.80,-0.047],[1994.03,0.009],[1994.11,-0.051],[1994.16,-0.055]];
const hawaiiD13Fit = [[1988.89,-0.082],[1989.00,-0.053],[1989.18,-0.015],[1989.39,0.014],[1989.66,0.039],[1989.92,0.054],[1990.13,0.055],[1990.34,0.050],[1990.60,0.045],[1990.86,0.030],[1991.12,0.001],[1991.39,-0.014],[1991.70,-0.014],[1992.12,-0.012],[1992.43,-0.003],[1992.75,-0.002],[1993.06,-0.007],[1993.38,-0.018],[1993.69,-0.031],[1994.16,-0.047],[1994.42,-0.047],[1994.85,-0.027],[1995.26,-0.015],[1995.89,-0.003],[1996.63,0.015],[1997.15,0.004],[1997.88,0.029],[1998.62,0.021],[1999.14,0.005],[1999.67,-0.011],[2000.08,0.005],[2000.45,0.017],[2000.87,0.001],[2001.24,-0.007],[2001.75,-0.007]];
const hawaiiPco2Pts = [[1988.82,1.3],[1988.89,-0.3],[1989.00,9.7],[1989.21,4.2],[1989.37,-9.5],[1989.42,4.7],[1989.55,-5.6],[1989.62,-0.8],[1989.71,4.2],[1989.90,-3.2],[1990.11,4.2],[1990.19,0.2],[1990.25,0.4],[1990.39,5.0],[1990.55,5.3],[1990.67,14.2],[1990.95,2.5],[1991.05,7.1],[1991.16,-4.0],[1991.23,9.2],[1991.33,-5.3],[1991.49,6.8],[1991.57,9.2],[1991.78,5.5],[1991.91,3.2],[1992.10,-4.0],[1992.25,4.2],[1992.38,9.2],[1992.56,-3.5],[1992.70,-4.9],[1992.87,0.0],[1993.02,-10.6],[1993.25,-4.0],[1993.36,-10.2],[1993.64,-1.4],[1993.67,2.8],[1993.80,-4.3],[1994.03,-7.0],[1994.11,-5.7],[1994.16,6.4]];
const hawaiiPco2Fit = [[1988.85,3.2],[1989.08,0.7],[1989.34,-0.8],[1989.66,-0.3],[1989.97,2.5],[1990.23,4.7],[1990.67,5.7],[1990.97,4.2],[1991.23,3.4],[1991.60,4.2],[1991.91,3.4],[1992.33,1.3],[1992.70,-3.0],[1993.06,-6.7],[1993.32,-6.7],[1993.64,-3.0],[1994.16,0.3],[1994.53,1.0],[1994.95,-2.3],[1995.37,-6.3],[1996.00,-5.7],[1996.52,-2.3],[1997.20,1.0],[1997.68,-2.3],[1998.30,-4.3],[1998.83,-1.0],[1999.35,4.4],[2000.08,5.0],[2000.92,5.0],[2001.45,-0.7],[2001.75,-2.5]];

// ---- layout ----
const W = 1433, H = 662;
const plotTop = 43, plotBottom = 632, plotWidth = 602;
const FONT = "'Liberation Sans', Arial, Helvetica, sans-serif";
const INK = "#231f20";

const svg = d3.select("#chart").append("svg")
  .attr("width", W).attr("height", H)
  .style("display", "block")
  .attr("font-family", FONT);

// stacked y scales, shared by both panels
const yTemp = d3.scaleLinear().domain([-2.5, 2.5]).range([189.5, 43.9]);
const yDic = d3.scaleLinear().domain([-15, 15]).range([190.3, 348.4]);
const yD13 = d3.scaleLinear().domain([-0.14, 0.15]).range([469, 316.75]);
const yPco2 = d3.scaleLinear().domain([-25, 25]).range([632.75, 475.25]);

function ticksFor(lo, hi, step) {
  const n = Math.round((hi - lo) / step);
  return d3.range(n + 1).map(i => +(lo + i * step).toFixed(4));
}

function yAxis(g, scale, x0, side, step, med, major, fmt, pad) {
  const all = ticksFor(scale.domain()[0], scale.domain()[1], step);
  const isMajor = v => major.some(m => Math.abs(m - v) < 1e-6);
  const isMed = v => !isMajor(v) && Math.abs(v / med - Math.round(v / med)) < 1e-6;
  const mk = side === "left" ? d3.axisLeft : d3.axisRight;
  [[all.filter(v => !isMajor(v) && !isMed(v)), 6], [all.filter(isMed), 9]].forEach(([vals, len]) => {
    g.append("g").attr("transform", `translate(${x0},0)`)
      .call(mk(scale).tickValues(vals).tickSize(-len).tickFormat(""))
      .call(a => a.select(".domain").remove());
  });
  g.append("g").attr("transform", `translate(${x0},0)`)
    .call(mk(scale).tickValues(major).tickSize(-12).tickPadding(pad).tickFormat(fmt))
    .call(a => a.select(".domain").remove())
    .attr("font-size", 17).attr("font-family", FONT);
}

function drawPanel(opt) {
  const x = d3.scaleLinear().domain([1983, 2002]).range([opt.left, opt.left + plotWidth]);
  const g = svg.append("g").attr("color", INK);

  // alternate-year shading
  g.selectAll("rect.band").data(opt.bands).join("rect")
    .attr("class", "band")
    .attr("x", d => x(d)).attr("width", d => x(d + 1) - x(d))
    .attr("y", plotTop).attr("height", plotBottom - plotTop)
    .attr("fill", "#ebebeb");

  // time ticks (every 4 months, long ones on even years)
  const minorX = ticksFor(1983, opt.tickEnd, 1 / 3).filter(v => !opt.years.includes(v) || v % 2);
  g.append("g").attr("transform", `translate(0,${plotBottom})`)
    .call(d3.axisBottom(x).tickValues(minorX).tickSize(-6).tickFormat(""))
    .call(a => a.select(".domain").remove());
  g.append("g").attr("transform", `translate(0,${plotTop})`)
    .call(d3.axisTop(x).tickValues(minorX).tickSize(-6).tickFormat(""))
    .call(a => a.select(".domain").remove());
  g.append("g").attr("transform", `translate(0,${plotBottom})`)
    .call(d3.axisBottom(x).tickValues(opt.years).tickSize(-12).tickPadding(9).tickFormat(d3.format("d")))
    .call(a => a.select(".domain").remove())
    .attr("font-size", 17).attr("font-family", FONT)
    .call(a => a.selectAll("text").attr("text-anchor", "start"));
  g.append("g").attr("transform", `translate(0,${plotTop})`)
    .call(d3.axisTop(x).tickValues(opt.years).tickSize(-12).tickFormat(""))
    .call(a => a.select(".domain").remove());

  // left axes
  yAxis(g, yTemp, opt.left, "left", 0.25, 1, tempTicks, d => String(d), opt.labelPad);
  yAxis(g, yD13, opt.left, "left", 0.01, 0.05, d13Ticks, d => d.toFixed(2), opt.labelPad);
  if (opt.rightAxes) {
    const xr = opt.left + plotWidth;
    yAxis(g, yDic, xr, "right", 1, 5, dicTicks, d => String(d), 6);
    yAxis(g, yPco2, xr, "right", 2.5, 5, pco2Ticks, d => String(d), 6);
  }
  g.selectAll(".tick line").attr("stroke-width", 1.3);

  // frame
  g.append("rect")
    .attr("x", opt.left).attr("y", plotTop)
    .attr("width", plotWidth).attr("height", plotBottom - plotTop)
    .attr("fill", "none").attr("stroke", INK).attr("stroke-width", 2.2);

  // series
  opt.series.forEach(s => {
    g.append("g").selectAll("circle").data(s.pts).join("circle")
      .attr("cx", d => x(d[0])).attr("cy", d => s.y(d[1]))
      .attr("r", s.r).attr("fill", INK);
    g.append("path").datum(s.fit)
      .attr("fill", "none").attr("stroke", INK).attr("stroke-width", 2)
      .attr("stroke-linejoin", "round")
      .attr("d", d3.line().x(d => x(d[0])).y(d => s.y(d[1])).curve(d3.curveCatmullRom.alpha(0.5)));
  });

  // titles
  svg.append("text").attr("x", opt.left + 4).attr("y", 30)
    .attr("font-size", 22).attr("font-style", "italic").attr("fill", INK)
    .text(opt.title);

  svg.append("text")
    .attr("transform", `translate(${opt.left - opt.titleOff},115) rotate(-90)`)
    .attr("text-anchor", "middle").attr("font-size", 17).attr("fill", INK)
    .text("Temperature (°C)");

  const dl = svg.append("text")
    .attr("transform", `translate(${opt.left - opt.titleOff - 3},393) rotate(-90)`)
    .attr("text-anchor", "middle").attr("font-size", 17).attr("fill", INK);
  dl.append("tspan").text("δ");
  dl.append("tspan").attr("font-size", 11).attr("dy", -7).text("13");
  dl.append("tspan").attr("dy", 7).text("C (per mil)");
}

drawPanel({
  left: 84, title: "BERMUDA", bands: bermudaBands, years: bermudaYears, tickEnd: 2002,
  labelPad: 8, titleOff: 48, rightAxes: true,
  series: [
    {pts: bermudaTempPts, fit: bermudaTempFit, y: yTemp, r: 2.7},
    {pts: bermudaDicPts, fit: bermudaDicFit, y: yDic, r: 2.7},
    {pts: bermudaD13Pts, fit: bermudaD13Fit, y: yD13, r: 2.4},
    {pts: bermudaPco2Pts, fit: bermudaPco2Fit, y: yPco2, r: 1.9}
  ]
});

drawPanel({
  left: 840, title: "HAWAII", bands: hawaiiBands, years: hawaiiYears, tickEnd: 1994,
  labelPad: 12, titleOff: 44, rightAxes: false,
  series: [
    {pts: hawaiiSstPts, fit: hawaiiSstFit, y: yTemp, r: 2.5},
    {pts: hawaiiDicPts, fit: hawaiiDicFit, y: yDic, r: 2.5},
    {pts: hawaiiD13Pts, fit: hawaiiD13Fit, y: yD13, r: 2.1},
    {pts: hawaiiPco2Pts, fit: hawaiiPco2Fit, y: yPco2, r: 1.9}
  ]
});

// right-hand axis titles of the Bermuda panel
const sdic = svg.append("text")
  .attr("transform", "translate(746,263) rotate(-90)")
  .attr("text-anchor", "middle").attr("font-size", 17).attr("fill", INK);
sdic.append("tspan").text("sDIC (μmol kg");
sdic.append("tspan").attr("font-size", 11).attr("dy", -7).text("-1");
sdic.append("tspan").attr("dy", 7).text(")");

const pco2 = svg.append("text")
  .attr("transform", "translate(746,550) rotate(-90)")
  .attr("text-anchor", "middle").attr("font-size", 17).attr("fill", INK);
pco2.append("tspan").text("pCO");
pco2.append("tspan").attr("font-size", 11).attr("dy", 4).text("2");
pco2.append("tspan").attr("dy", -4).text(" (μatm)");

// series labels inside the Hawaii panel
const lab = svg.append("g").attr("font-size", 18).attr("fill", INK);
lab.append("text").attr("x", 937).attr("y", 118).text("SST");
lab.append("text").attr("x", 937).attr("y", 260).text("sDIC");
const dlab = lab.append("text").attr("x", 937).attr("y", 408);
dlab.append("tspan").text("δ");
dlab.append("tspan").attr("font-size", 12).attr("dy", -7).text("13");
dlab.append("tspan").attr("dy", 7).text("C");
const plab = lab.append("text").attr("x", 935).attr("y", 550);
plab.append("tspan").attr("font-style", "italic").text("p");
plab.append("tspan").text("CO");
plab.append("tspan").attr("font-size", 12).attr("dy", 5).text("2");
</script>
</body>
</html>
